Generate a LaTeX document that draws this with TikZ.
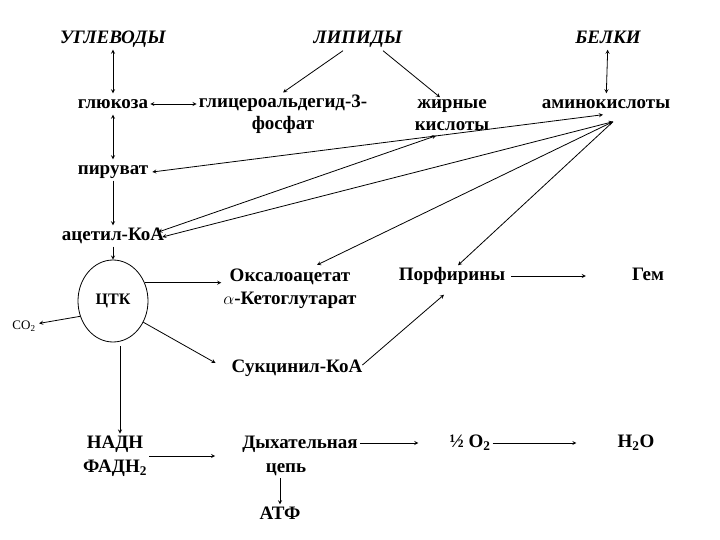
\documentclass[tikz,border=0pt]{standalone}
\usepackage{fontspec}
\setmainfont{Liberation Serif}
\usepackage{tikz}
\usetikzlibrary{shapes.geometric,arrows,calc}

\begin{document}
\begin{tikzpicture}[
    x=1pt, y=-1pt,
    txt/.style={font=\fontsize{19}{22}\selectfont\bfseries, align=center, inner sep=2pt},
    one/.style={txt, text height=13pt, text depth=4pt},
    head/.style={one, font=\fontsize{19}{22}\selectfont\bfseries\itshape},
    cycle/.style={ellipse, draw, line width=0.8pt, minimum width=70pt, minimum height=82pt, font=\fontsize{16}{18}\selectfont\bfseries},
    arrow/.style={->, >=stealth, line width=0.8pt},
    dblarrow/.style={<->, >=stealth, line width=0.8pt}
]
\useasboundingbox (0,0) rectangle (720,540);

% Sources
\node[head] (carb) at (113,39) {УГЛЕВОДЫ};
\node[head] (lipid) at (358,39) {ЛИПИДЫ};
\node[head] (prot) at (608,39) {БЕЛКИ};

% Monomers
\node[one] (gluc) at (113,104) {глюкоза};
\node[txt] (gap) at (283,114) {глицероальдегид-3-\\фосфат};
\node[txt] (fa) at (452,115) {жирные\\кислоты};
\node[one] (aa) at (606,104) {аминокислоты};

% Glycolysis column
\node[one] (pyr) at (113,170) {пируват};
\node[one] (acoa) at (113,236) {ацетил-КоА};
\node[cycle] (tca) at (113,301) {ЦТК};
\node[font=\fontsize{13}{15}\selectfont] (co2) at (24,326) {CO\textsubscript{2}};

% TCA products
\node[txt] (oaa) at (290,289) {Оксалоацетат\\[1pt]$\alpha$-Кетоглутарат};
\node[one] (porph) at (452,276) {Порфирины};
\node[one] (heme) at (648,276) {Гем};
\node[one] (succ) at (297,368) {Сукцинил-КоА};

% Respiration
\node[txt] (nadh) at (115,456) {НАДН\\[2pt]ФАДН\textsubscript{2}};
\node[txt] (resp) at (300,456) {Дыхательная\\[2pt]\hspace*{-28pt}цепь};
\node[one] (oxy) at (470,443) {½ O\textsubscript{2}};
\node[one] (water) at (636,443) {H\textsubscript{2}O};
\node[one] (atp) at (280,515) {АТФ};

% Sources to monomers
\draw[dblarrow] (carb) -- (gluc);
\draw[arrow] ($(lipid.south)+(-15,1)$) -- (gap.north);
\draw[arrow] ($(lipid.south)+(25,1)$) -- ($(fa.north)+(-12,0)$);
\draw[dblarrow] (prot) -- (aa);
\draw[dblarrow] (gluc) -- (gluc -| gap.west);

% Glycolysis
\draw[dblarrow] (gluc) -- (pyr);
\draw[arrow] (pyr) -- (acoa);
\draw[arrow] (acoa) -- (tca);

% Links to amino acids
\coordinate (aain) at ($(aa.south)+(7,7)$);
\coordinate (aatop) at ($(aa.south)+(-3,0)$);
\coordinate (fain) at ($(fa.south)+(-16,3)$);
\draw[dblarrow] ($(pyr.east)+(2,2)$) -- (aatop);
\draw[dblarrow] ($(acoa.east)+(-8,-4)$) -- (fain);
\draw[dblarrow] ($(acoa.east)+(-4,1)$) -- (aain);
\draw[dblarrow] ($(oaa.north)+(27,-2)$) -- (aain);
\draw[arrow] (aain) -- ($(porph.north)+(6,0)$);

% TCA cycle
\draw[arrow] (tca.30) -- (tca.30 -| oaa.west);
\draw[arrow] (tca.-35) -- ($(succ.west)+(-14,-5)$);
\draw[arrow] (tca.205) -- (co2);
\draw[arrow, shorten <=4pt] ([xshift=7pt]tca.south) -- ([xshift=7pt]tca.south |- nadh.north);
\draw[arrow] ($(succ.east)+(-2,-3)$) -- ($(porph.south)+(-8,8)$);
\draw[arrow, shorten <=4pt, shorten >=44pt] (porph) -- (heme);

% Respiration
\draw[arrow, shorten >=25pt] (nadh) -- (resp);
\draw[arrow, shorten >=29pt] (resp.east |- oxy) -- (oxy);
\draw[arrow, shorten >=39pt] (oxy) -- (water);
\draw[arrow] (resp.south -| atp) -- (atp);

\end{tikzpicture}
\end{document}
